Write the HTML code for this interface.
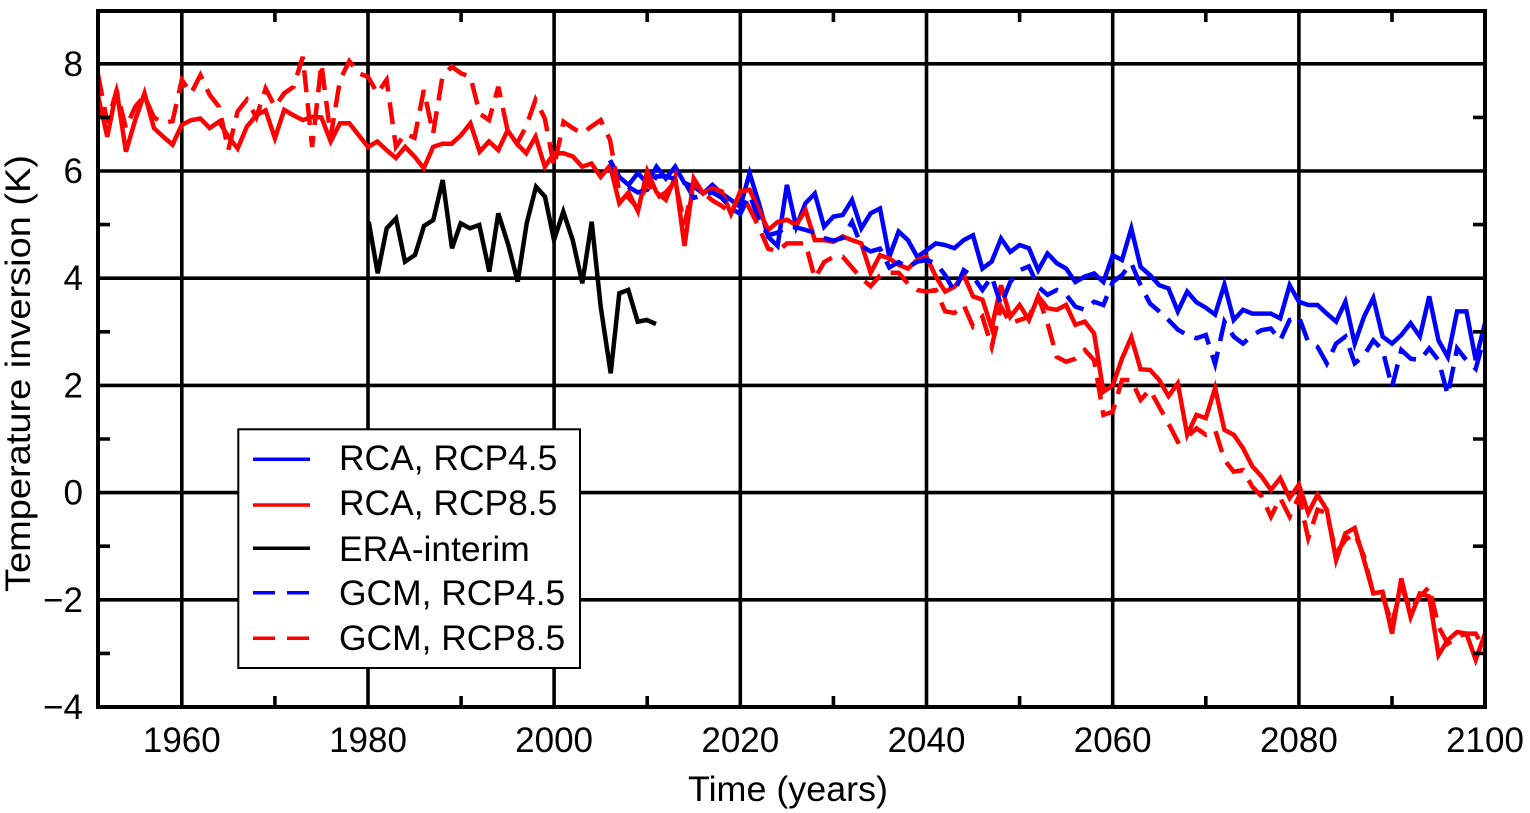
<!DOCTYPE html>
<html><head><meta charset="utf-8"><style>
html,body{margin:0;padding:0;background:#fff;}
svg{display:block;}
text{font-family:"Liberation Sans",Arial,Helvetica,sans-serif;fill:#000;}
</style></head><body>
<svg width="1530" height="813" viewBox="0 0 1530 813" xmlns="http://www.w3.org/2000/svg">
<rect width="1530" height="813" fill="#fff"/>
<defs><clipPath id="pa"><rect x="98" y="11" width="1387" height="696"/></clipPath></defs>
<g stroke="#000" stroke-width="3.6" fill="none">
<path d="M181.8 11V707M368 11V707M554.1 11V707M740.3 11V707M926.5 11V707M1112.7 11V707M1298.9 11V707"/>
<path d="M98 63.8H1485M98 171H1485M98 278.2H1485M98 385.4H1485M98 492.6H1485M98 599.8H1485"/>
</g>
<g clip-path="url(#pa)" fill="none" stroke-width="4.5" stroke-linejoin="miter" stroke-miterlimit="4">
<polyline stroke="#0000ff" points="610.0,160.3 619.3,176.9 628.6,184.9 637.9,173.1 647.2,183.3 656.5,166.7 665.8,178.5 675.2,166.7 684.5,183.3 693.8,186.5 703.1,193.5 712.4,184.9 721.7,193.5 731.0,199.9 740.3,206.9 749.6,173.1 758.9,203.2 768.2,236.9 777.6,246.0 786.9,184.9 796.2,226.7 805.5,203.2 814.8,193.5 824.1,226.7 833.4,216.6 842.7,215.0 852.0,199.9 861.3,228.4 870.6,213.3 880.0,208.5 889.3,256.8 898.6,231.6 907.9,240.1 917.2,256.8 926.5,250.3 935.8,243.4 945.1,245.0 954.4,248.2 963.7,240.1 973.0,235.3 982.4,268.6 991.7,261.6 1001.0,238.5 1010.3,251.9 1019.6,245.0 1028.9,248.2 1038.2,270.2 1047.5,253.5 1056.8,263.2 1066.1,268.6 1075.4,282.0 1084.8,276.6 1094.1,273.4 1103.4,282.0 1112.7,255.2 1122.0,260.0 1131.3,228.4 1140.6,266.9 1149.9,275.0 1159.2,285.2 1168.5,288.4 1177.8,311.4 1187.2,291.6 1196.5,302.3 1205.8,307.7 1215.1,314.6 1224.4,284.6 1233.7,320.0 1243.0,309.8 1252.3,313.6 1261.6,313.6 1270.9,313.6 1280.2,318.4 1289.6,285.2 1298.9,301.8 1308.2,305.0 1317.5,305.0 1326.8,313.6 1336.1,321.6 1345.4,301.8 1354.7,343.6 1364.0,316.8 1373.3,298.0 1382.6,336.6 1392.0,343.6 1401.3,335.0 1410.6,323.2 1419.9,336.6 1429.2,296.4 1438.5,340.4 1447.8,357.0 1457.1,311.4 1466.4,311.4 1475.7,360.2 1485.0,323.2"/>
<polyline stroke="#ff0000" points="98.0,96.0 107.3,136.7 116.6,90.1 125.9,151.7 135.2,120.1 144.5,93.3 153.9,128.1 163.2,136.7 172.5,144.7 181.8,124.9 191.1,120.1 200.4,118.5 209.7,128.1 219.0,121.7 228.3,136.7 237.6,148.5 246.9,126.5 256.3,115.3 265.6,110.4 274.9,138.3 284.2,109.9 293.5,115.3 302.8,120.1 312.1,116.9 321.4,117.4 330.7,141.5 340.0,123.3 349.3,123.3 358.7,135.1 368.0,146.9 377.3,141.5 386.6,150.1 395.9,158.1 405.2,146.9 414.5,156.5 423.8,168.3 433.1,146.9 442.4,143.7 451.7,143.7 461.1,135.1 470.4,123.3 479.7,151.7 489.0,141.5 498.3,150.1 507.6,130.3 516.9,143.7 526.2,153.3 535.5,136.7 544.8,166.7 554.1,153.3 563.5,153.3 572.8,156.5 582.1,166.7 591.4,163.5 600.7,176.9 610.0,165.6 619.3,203.2 628.6,192.4 637.9,211.2 647.2,171.0 656.5,192.4 665.8,199.9 675.2,176.9 684.5,246.0 693.8,178.5 703.1,193.5 712.4,188.2 721.7,191.4 731.0,213.9 740.3,191.4 749.6,189.8 758.9,210.1 768.2,230.0 777.6,221.9 786.9,219.8 796.2,225.1 805.5,210.1 814.8,240.1 824.1,240.1 833.4,241.8 842.7,236.4 852.0,240.1 861.3,243.4 870.6,272.8 880.0,255.2 889.3,258.4 898.6,264.8 907.9,268.6 917.2,260.0 926.5,256.8 935.8,276.6 945.1,291.6 954.4,286.8 963.7,275.0 973.0,296.4 982.4,299.6 991.7,328.0 1001.0,285.2 1010.3,316.8 1019.6,305.0 1028.9,320.0 1038.2,296.4 1047.5,308.2 1056.8,309.8 1066.1,305.0 1075.4,324.8 1084.8,321.6 1094.1,333.4 1103.4,391.8 1112.7,385.4 1122.0,358.6 1131.3,337.2 1140.6,369.3 1149.9,369.9 1159.2,380.0 1168.5,396.1 1177.8,383.3 1187.2,434.7 1196.5,414.9 1205.8,418.1 1215.1,388.1 1224.4,429.9 1233.7,434.7 1243.0,448.1 1252.3,466.3 1261.6,476.5 1270.9,489.9 1280.2,478.1 1289.6,498.0 1298.9,484.6 1308.2,513.0 1317.5,494.7 1326.8,509.8 1336.1,560.1 1345.4,533.3 1354.7,528.0 1364.0,560.1 1373.3,593.4 1382.6,591.8 1392.0,633.6 1401.3,578.4 1410.6,617.0 1419.9,593.4 1429.2,596.6 1438.5,655.0 1447.8,640.0 1457.1,632.0 1466.4,633.6 1475.7,659.8 1485.0,633.6"/>
<polyline stroke="#000000" points="368.7,221.7 377.7,273.3 386.7,228.3 396,218.3 405,261.7 415,255 424,226 433.3,220 442.7,180 452,248.3 460.7,223.3 470,228.3 479.3,225 489.3,271.7 498.3,213.3 508.3,245 517.7,281.7 526.7,223.3 536,186.7 545,196.7 554,240 563.3,211.7 572.7,240 582.3,283.3 591.7,221.7 600.7,306.7 610.7,373.3 619.3,293.3 628.3,290 637.7,321.7 646.7,320 656,324"/>
<polyline stroke="#0000ff" stroke-dasharray="22 11" points="610.0,160.3 619.3,179.0 628.6,187.1 637.9,192.4 647.2,189.8 656.5,176.4 665.8,176.4 675.2,179.0 684.5,181.7 693.8,197.8 703.1,195.1 712.4,192.4 721.7,197.8 731.0,208.5 740.3,213.9 749.6,195.1 758.9,219.2 768.2,235.3 777.6,232.6 786.9,227.3 796.2,227.3 805.5,230.0 814.8,232.6 824.1,238.0 833.4,240.7 842.7,238.0 852.0,221.9 861.3,246.0 870.6,251.4 880.0,248.7 889.3,267.5 898.6,262.1 907.9,267.5 917.2,261.6 926.5,260.0 935.8,263.2 945.1,275.0 954.4,291.6 963.7,270.2 973.0,276.6 982.4,290.0 991.7,276.6 1001.0,305.0 1010.3,282.0 1019.6,270.2 1028.9,266.4 1038.2,286.8 1047.5,294.8 1056.8,290.0 1066.1,294.8 1075.4,306.6 1084.8,309.8 1094.1,301.8 1103.4,305.0 1112.7,282.0 1122.0,275.0 1131.3,263.2 1140.6,285.2 1149.9,303.4 1159.2,311.4 1168.5,320.0 1177.8,329.6 1187.2,335.0 1196.5,338.2 1205.8,335.0 1215.1,364.0 1224.4,321.6 1233.7,336.6 1243.0,343.6 1252.3,335.0 1261.6,330.2 1270.9,328.6 1280.2,340.4 1289.6,320.0 1298.9,316.8 1308.2,342.0 1317.5,346.8 1326.8,363.4 1336.1,343.6 1345.4,336.6 1354.7,363.4 1364.0,355.4 1373.3,340.4 1382.6,350.0 1392.0,387.0 1401.3,350.0 1410.6,358.6 1419.9,360.2 1429.2,348.4 1438.5,360.2 1447.8,395.0 1457.1,348.4 1466.4,360.2 1475.7,368.8 1485.0,335.0"/>
<polyline stroke="#ff0000" stroke-dasharray="22 11" points="98.0,74.5 107.3,122.8 116.6,90.6 125.9,128.1 135.2,106.7 144.5,96.0 153.9,117.4 163.2,122.8 172.5,121.2 181.8,79.9 191.1,93.3 200.4,75.1 209.7,94.9 219.0,106.7 228.3,150.1 237.6,111.5 246.9,99.7 256.3,117.4 265.6,88.5 274.9,106.7 284.2,93.3 293.5,86.8 302.8,56.8 312.1,146.9 321.4,63.8 330.7,136.7 340.0,79.9 349.3,61.1 358.7,73.4 368.0,76.7 377.3,93.3 386.6,79.9 395.9,146.9 405.2,133.5 414.5,137.8 423.8,90.1 433.1,133.5 442.4,76.7 451.7,66.5 461.1,73.4 470.4,76.7 479.7,113.6 489.0,120.1 498.3,86.8 507.6,130.3 516.9,143.7 526.2,126.5 535.5,99.7 544.8,118.5 554.1,166.7 563.5,121.7 572.8,128.1 582.1,133.5 591.4,126.5 600.7,120.1 610.0,139.9 619.3,192.4 628.6,197.8 637.9,208.5 647.2,181.7 656.5,197.8 665.8,192.4 675.2,181.7 684.5,224.6 693.8,181.7 703.1,192.4 712.4,200.5 721.7,205.8 731.0,213.9 740.3,192.4 749.6,208.5 758.9,227.3 768.2,248.7 777.6,251.4 786.9,243.4 796.2,243.4 805.5,243.4 814.8,278.2 824.1,262.1 833.4,256.8 842.7,256.8 852.0,267.5 861.3,278.2 870.6,286.2 880.0,275.5 889.3,272.8 898.6,272.8 907.9,283.6 917.2,290.0 926.5,291.6 935.8,290.0 945.1,311.4 954.4,313.0 963.7,305.0 973.0,326.4 982.4,316.8 991.7,346.8 1001.0,306.6 1010.3,323.2 1019.6,320.0 1028.9,316.8 1038.2,296.4 1047.5,323.2 1056.8,357.0 1066.1,361.8 1075.4,358.6 1084.8,350.0 1094.1,360.2 1103.4,414.9 1112.7,411.7 1122.0,380.0 1131.3,380.0 1140.6,399.9 1149.9,389.7 1159.2,406.8 1168.5,423.5 1177.8,441.7 1187.2,436.9 1196.5,428.3 1205.8,434.7 1215.1,429.9 1224.4,459.9 1233.7,471.7 1243.0,470.1 1252.3,486.7 1261.6,496.4 1270.9,516.7 1280.2,498.0 1289.6,516.7 1298.9,496.4 1308.2,538.2 1317.5,509.8 1326.8,513.0 1336.1,553.2 1345.4,539.8 1354.7,533.3 1364.0,556.4 1373.3,593.4 1382.6,596.6 1392.0,623.4 1401.3,586.9 1410.6,610.0 1419.9,596.6 1429.2,586.9 1438.5,626.6 1447.8,643.8 1457.1,636.8 1466.4,633.6 1475.7,633.6 1485.0,650.2"/>
</g>
<g stroke="#000" stroke-width="3.6" fill="none">
<path d="M274.9 707v-11M461.1 707v-11M647.2 707v-11M833.4 707v-11M1019.6 707v-11M1205.8 707v-11M1392 707v-11"/>
<path d="M274.9 11v11M461.1 11v11M647.2 11v11M833.4 11v11M1019.6 11v11M1205.8 11v11M1392 11v11"/>
<path d="M98 117.4h12M98 224.6h12M98 331.8h12M98 439h12M98 546.2h12M98 653.4h12"/>
<path d="M1485 117.4h-12M1485 224.6h-12M1485 331.8h-12M1485 439h-12M1485 546.2h-12M1485 653.4h-12"/>
</g>
<rect x="98" y="11" width="1387" height="696" fill="none" stroke="#000" stroke-width="4"/>
<g font-size="35" text-anchor="end">
<text x="83" y="76">8</text>
<text x="83" y="183">6</text>
<text x="83" y="290">4</text>
<text x="83" y="397.5">2</text>
<text x="83" y="504.6">0</text>
<text x="83" y="612">−2</text>
<text x="83" y="719">−4</text>
</g>
<g font-size="35" text-anchor="middle">
<text x="181.8" y="752">1960</text>
<text x="368" y="752">1980</text>
<text x="554.1" y="752">2000</text>
<text x="740.3" y="752">2020</text>
<text x="926.5" y="752">2040</text>
<text x="1112.7" y="752">2060</text>
<text x="1298.9" y="752">2080</text>
<text x="1485" y="752">2100</text>
<text x="788" y="801" textLength="200" lengthAdjust="spacingAndGlyphs">Time (years)</text>
<text transform="translate(30,373.5) rotate(-90)" x="0" y="0" textLength="437" lengthAdjust="spacingAndGlyphs">Temperature inversion (K)</text>
</g>
<rect x="238.3" y="429.3" width="341.7" height="238.7" fill="#fff" stroke="#000" stroke-width="2"/>
<g stroke-width="3.5" fill="none">
<path d="M253 459.3H310" stroke="#0000ff"/>
<path d="M253 505H310" stroke="#ff0000"/>
<path d="M253 548.3H310" stroke="#000"/>
<path d="M253 592.7H310" stroke="#0000ff" stroke-dasharray="22 12"/>
<path d="M253 638.3H310" stroke="#ff0000" stroke-dasharray="22 12"/>
</g>
<g font-size="35.4">
<text x="339" y="470">RCA, RCP4.5</text>
<text x="339" y="515">RCA, RCP8.5</text>
<text x="339" y="561">ERA-interim</text>
<text x="339" y="605">GCM, RCP4.5</text>
<text x="339" y="650">GCM, RCP8.5</text>
</g>
</svg>
</body></html>
